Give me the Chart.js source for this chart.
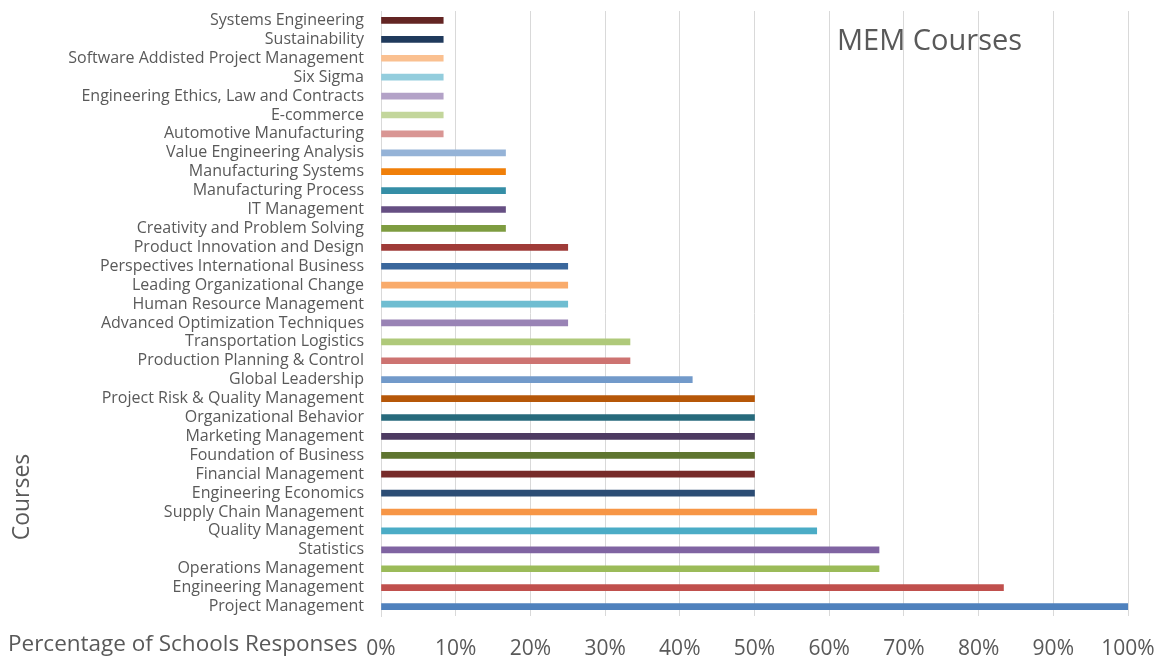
<!DOCTYPE html>
<html><head><meta charset="utf-8">
<script src="https://cdn.jsdelivr.net/npm/chart.js@4"></script>
<style>html,body{margin:0;padding:0;background:#fff}#wrap{width:1164px;height:657px;position:relative}</style>
</head><body><div id="wrap"><canvas id="c" width="1164" height="657"></canvas></div>
<script>
const categories = ["Systems Engineering","Sustainability","Software Addisted Project Management","Six Sigma","Engineering Ethics, Law and Contracts","E-commerce","Automotive Manufacturing","Value Engineering Analysis","Manufacturing Systems","Manufacturing Process","IT Management","Creativity and Problem Solving","Product Innovation and Design","Perspectives International Business","Leading Organizational Change","Human Resource Management","Advanced Optimization Techniques","Transportation Logistics","Production Planning & Control","Global Leadership","Project Risk & Quality Management","Organizational Behavior","Marketing Management","Foundation of Business","Financial Management","Engineering Economics","Supply Chain Management","Quality Management","Statistics","Operations Management","Engineering Management","Project Management"];
const values = [8.33,8.33,8.33,8.33,8.33,8.33,8.33,16.67,16.67,16.67,16.67,16.67,25,25,25,25,25,33.33,33.33,41.67,50,50,50,50,50,50,58.33,58.33,66.67,66.67,83.33,100];
const barColors = ["#632523","#203A5C","#FAC090","#93CDDD","#B3A2C7","#C3D69B","#D99694","#95B3D7","#F07F09","#358EA6","#664F83","#7E9C40","#9F3B38","#3A679C","#F9AB6B","#6FBDD1","#9983B5","#AFC97A","#CD7371","#729ACA","#B65708","#276A7C","#4D3B62","#5F7530","#772C2A","#2C4D75","#F79646","#4BACC6","#8064A2","#9BBB59","#C0504D","#4F81BD"];
const xTicks = [0,10,20,30,40,50,60,70,80,90,100];
const chartTitle = "MEM Courses";
const xTitle = "Percentage of Schools Responses";
const yTitle = "Courses";

const FONT = "'Open Sans', sans-serif";
const TXT = "#595959";

const extraText = {
  id: 'extraText',
  afterDraw(chart) {
    const ctx = chart.ctx;
    ctx.save();
    ctx.fillStyle = TXT;
    ctx.font = "29px " + FONT;
    ctx.textAlign = "left"; ctx.textBaseline = "middle";
    ctx.fillText(chartTitle, 837, 42);
    ctx.font = "22.5px " + FONT;
    ctx.textAlign = "left";
    ctx.fillText(xTitle, 8, 645);
    ctx.translate(22, 497);
    ctx.rotate(-Math.PI/2);
    ctx.font = "23px " + FONT;
    ctx.textAlign = "center";
    ctx.fillText(yTitle, 0, 0);
    ctx.restore();
  }
};

new Chart(document.getElementById('c'), {
  type: 'bar',
  data: { labels: categories, datasets: [{ data: values, backgroundColor: barColors, barThickness: 6, borderWidth: 0 }] },
  options: {
    indexAxis: 'y',
    responsive: false,
    animation: false,
    layout: { padding: { top: 11, right: 36, left: 0, bottom: 0 } },
    plugins: { legend: { display: false }, tooltip: { enabled: false } },
    scales: {
      x: {
        min: 0, max: 100,
        afterBuildTicks(axis) { axis.ticks = xTicks.map(v => ({ value: v })); },
        afterFit(axis) { axis.height = 41; axis.paddingLeft = 0; axis.paddingRight = 0; },
        grid: { color: "#D9D9D9", drawTicks: false, lineWidth: 1 },
        border: { display: false },
        ticks: { padding: 20, color: TXT, font: { family: FONT, size: 21 }, callback: v => v + "%" }
      },
      y: {
        afterFit(axis) { axis.width = 381; axis.paddingTop = 0; axis.paddingBottom = 0; },
        grid: { display: false, drawTicks: false },
        border: { display: true, color: "#D9D9D9" },
        ticks: { padding: 17, color: TXT, font: { family: FONT, size: 16 }, autoSkip: false }
      }
    }
  },
  plugins: [extraText]
});
</script></body></html>
